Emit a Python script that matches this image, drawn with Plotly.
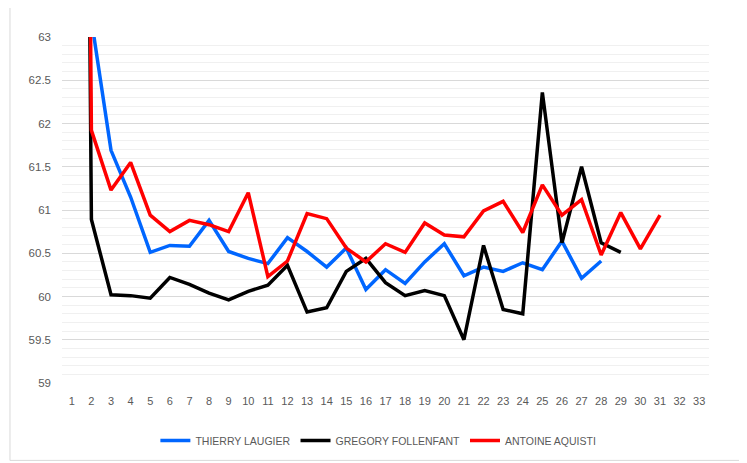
import plotly.graph_objects as go

laps = list(range(1, 34))
tick_labels = [str(i) for i in laps]

thierry = [88.0, 63.2, 61.69, 61.15, 60.51, 60.59, 60.58, 60.88, 60.52, 60.44,
           60.38, 60.68, 60.52, 60.34, 60.56, 60.08, 60.31, 60.15, 60.40, 60.61,
           60.24, 60.34, 60.29, 60.39, 60.31, 60.64, 60.21, 60.41]
gregory = [88.0, 60.89, 60.02, 60.01, 59.98, 60.22, 60.14, 60.04, 59.96, 60.06,
           60.13, 60.36, 59.82, 59.87, 60.29, 60.44, 60.16, 60.01, 60.07, 60.01,
           59.50, 60.59, 59.85, 59.80, 62.36, 60.62, 61.50, 60.62, 60.51]
antoine = [88.0, 61.92, 61.23, 61.55, 60.94, 60.75, 60.88, 60.83, 60.75, 61.20,
           60.23, 60.41, 60.96, 60.90, 60.56, 60.40, 60.61, 60.51, 60.85, 60.71,
           60.69, 60.99, 61.10, 60.74, 61.29, 60.94, 61.12, 60.48, 60.97, 60.55,
           60.94]

series = [
    ("THIERRY LAUGIER", thierry, "#0066FF"),
    ("GREGORY FOLLENFANT", gregory, "#000000"),
    ("ANTOINE AQUISTI", antoine, "#FF0000"),
]

fig = go.Figure()
for name, vals, col in series:
    fig.add_trace(go.Scatter(
        x=laps[:len(vals)], y=vals, mode="lines", name=name,
        line=dict(color=col, width=3.5),
    ))

font_family = "Liberation Sans, Arial, sans-serif"
fig.update_layout(
    width=739, height=455,
    margin=dict(l=54, r=38, t=29, b=79.5, autoexpand=False),
    paper_bgcolor="white", plot_bgcolor="white",
    font=dict(family=font_family, size=11, color="#595959"),
    showlegend=True,
    legend=dict(orientation="h", x=0.489, xanchor="center", y=-0.124, yanchor="top",
                font=dict(size=10.5, color="#595959"), itemwidth=30,
                tracegroupgap=0),
    xaxis=dict(range=[0.5, 33.5], tickmode="array", tickvals=laps,
               ticktext=tick_labels, showgrid=False, zeroline=False,
               showline=False, ticks="", ticklabelstandoff=10,
               tickfont=dict(size=11, color="#595959")),
    yaxis=dict(range=[59, 63], dtick=0.5, tick0=59, showgrid=True,
               gridcolor="#d9d9d9", gridwidth=1, zeroline=False,
               showline=False, ticks="", ticklabelstandoff=10,
               tickfont=dict(size=11.5, color="#595959"),
               minor=dict(dtick=0.1, showgrid=True, gridcolor="#f0f0f0",
                          gridwidth=1)),
    shapes=[dict(type="rect", xref="paper", yref="paper",
                 x0=-0.0804, x1=1.048, y0=-0.2237, y1=1.098,
                 line=dict(color="#d9d9d9", width=1), fillcolor="rgba(0,0,0,0)",
                 layer="below")],
)

fig.write_html("out.html")
